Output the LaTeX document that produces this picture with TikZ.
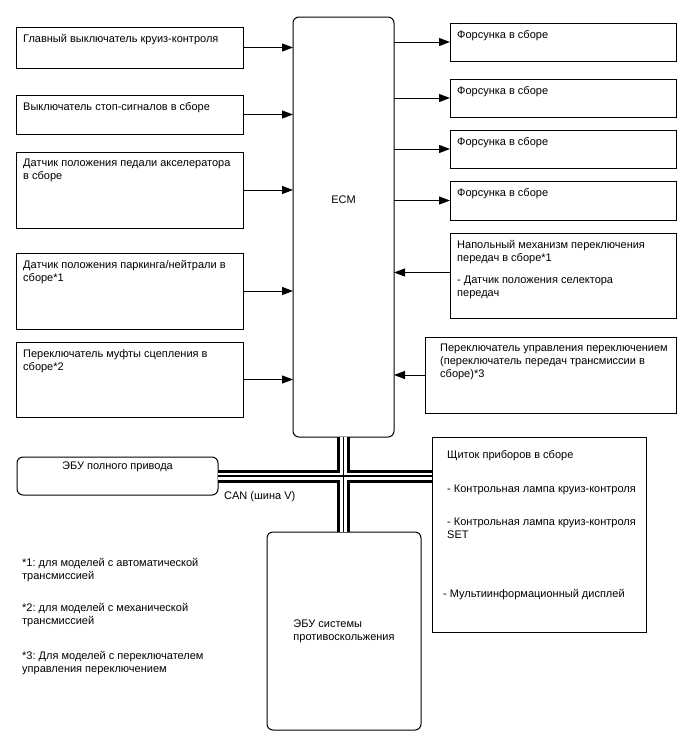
\documentclass[tikz,border=0pt]{standalone}
\usepackage{fontspec}
\setmainfont{Liberation Sans}
\usetikzlibrary{arrows.meta,positioning}
\frenchspacing

\begin{document}
\begin{tikzpicture}[
  x=1pt, y=-1pt,
  unit/.style={draw, line width=1pt, anchor=north west, inner sep=0pt, outer sep=0pt},
  ecu/.style={unit, rounded corners=6pt},
  txt/.style={font=\fontsize{11}{13}\selectfont, align=left, inner sep=0pt},
  boxtext/.style={label={[txt, anchor=north west, xshift=7pt, yshift=-7pt]north west:#1}},
  widetext/.style={label={[txt, anchor=north west, xshift=15pt, yshift=-7pt]north west:#1}},
  feed/.style={-{Triangle[length=11pt, width=8pt]}, line width=1pt}
]
\useasboundingbox (0,0) rectangle (688,755);

% inputs on the left
\node[unit, minimum width=227pt, minimum height=41pt, boxtext={Главный выключатель круиз-контроля}] (cms) at (16,27) {};
\node[unit, minimum width=227pt, minimum height=39pt, boxtext={Выключатель стоп-сигналов в сборе}] (stp) at (16,95) {};
\node[unit, minimum width=227pt, minimum height=76pt, boxtext={Датчик положения педали акселератора\\в сборе}] (apd) at (16,152) {};
\node[unit, minimum width=227pt, minimum height=76pt, boxtext={Датчик положения паркинга/нейтрали в\\сборе*1}] (pnp) at (16,253) {};
\node[unit, minimum width=227pt, minimum height=75pt, boxtext={Переключатель муфты сцепления в\\сборе*2}] (clt) at (16,342) {};

% engine ECU
\node[ecu, minimum width=101pt, minimum height=420pt, label={[txt, yshift=27pt]center:ECM}] (ecm) at (293,17) {};

% outputs and inputs on the right
\node[unit, minimum width=226pt, minimum height=38pt, boxtext={Форсунка в сборе}] (inj1) at (450,23) {};
\node[unit, minimum width=226pt, minimum height=38pt, boxtext={Форсунка в сборе}] (inj2) at (450,79) {};
\node[unit, minimum width=226pt, minimum height=38pt, boxtext={Форсунка в сборе}] (inj3) at (450,130) {};
\node[unit, minimum width=226pt, minimum height=39pt, boxtext={Форсунка в сборе}] (inj4) at (450,181) {};
\node[unit, minimum width=226pt, minimum height=85pt, boxtext={Напольный механизм переключения\\передач в сборе*1\\[9pt]- Датчик положения селектора\\передач}] (lvr) at (450,233) {};
\node[unit, minimum width=251pt, minimum height=76pt, widetext={Переключатель управления переключением\\(переключатель передач трансмиссии в\\сборе)*3}] (swc) at (425,337) {};

% CAN partners
\node[ecu, minimum width=201pt, minimum height=38pt, label={[txt, anchor=north, yshift=-5pt]north:ЭБУ полного привода}] (awd) at (17,457) {};
\node[unit, minimum width=214pt, minimum height=195pt, label={[txt, anchor=north west, xshift=15pt, yshift=-13pt]north west:Щиток приборов в сборе\\[21pt]- Контрольная лампа круиз-контроля\\[20pt]- Контрольная лампа круиз-контроля\\SET\\[46pt]\hspace*{-4pt}- Мультиинформационный дисплей}] (pnl) at (432,437) {};
\node[ecu, txt, minimum width=154pt, minimum height=198pt] (abs) at (267,532) {ЭБУ системы\\противоскольжения};

\draw[feed] (cms.east) -- (cms.east -| ecm.west);
\draw[feed] (stp.east) -- (stp.east -| ecm.west);
\draw[feed] (apd.east) -- (apd.east -| ecm.west);
\draw[feed] (pnp.east) -- (pnp.east -| ecm.west);
\draw[feed] (clt.east) -- (clt.east -| ecm.west);

\draw[feed] (ecm.east |- inj1.west) -- (inj1.west);
\draw[feed] (ecm.east |- inj2.west) -- (inj2.west);
\draw[feed] (ecm.east |- inj3.west) -- (inj3.west);
\draw[feed] (ecm.east |- inj4.west) -- (inj4.west);
\draw[feed] ([yshift=3pt]lvr.west) -- ([yshift=3pt]lvr.west -| ecm.east);
\draw[feed] (swc.west) -- (swc.west -| ecm.east);

% CAN bus, three passes
\foreach \w/\c in {13pt/black, 7pt/white, 1.2pt/black} {
  \draw[line width=\w, \c] (ecm.south) -- (ecm.south |- abs.north);
  \draw[line width=\w, \c] (awd.east) -- (awd.east -| pnl.west);
}
\node[txt, anchor=west] (can) at (224,497) {CAN (шина V)};

% notes
\node[txt, anchor=west] (fn1) at (22,570) {*1: для моделей с автоматической\\трансмиссией};
\node[txt, anchor=west] (fn2) at (22,615.5) {*2: для моделей с механической\\трансмиссией};
\node[txt, anchor=west] (fn3) at (22,663) {*3: Для моделей с переключателем\\управления переключением};
\end{tikzpicture}
\end{document}
